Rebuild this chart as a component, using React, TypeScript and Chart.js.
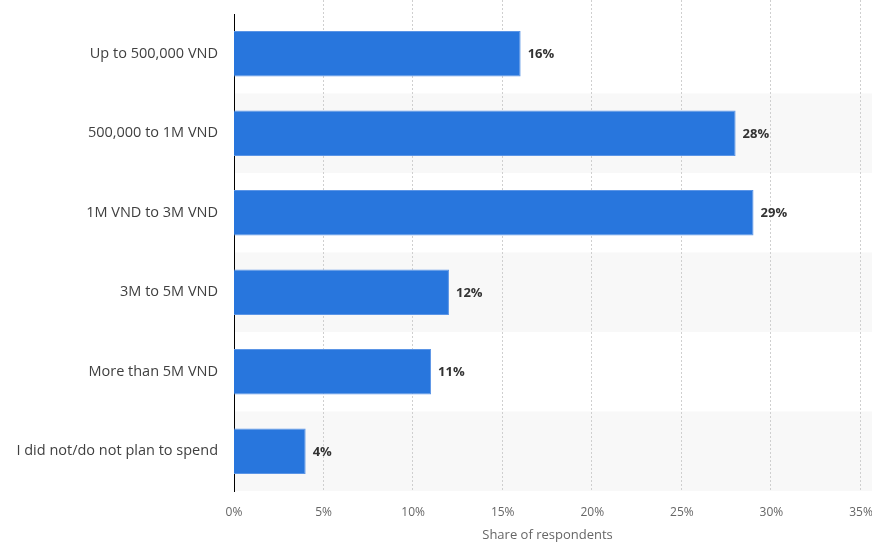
import React, { useEffect, useRef } from "react";
import { Chart, registerables } from "chart.js";

Chart.register(...registerables);

const categories = [
  "Up to 500,000 VND",
  "500,000 to 1M VND",
  "1M VND to 3M VND",
  "3M to 5M VND",
  "More than 5M VND",
  "I did not/do not plan to spend",
];
const shares = [16, 28, 29, 12, 11, 4];
const xTicks = [0, 5, 10, 15, 20, 25, 30, 35];

const FONT = "'Open Sans', 'Noto Sans', sans-serif";

const bandPlugin = {
  id: "bands",
  beforeDatasetsDraw(chart: any) {
    const { ctx, chartArea, scales } = chart;
    const y = scales.y;
    const n = categories.length;
    const h = (chartArea.bottom - chartArea.top) / n;
    ctx.save();
    ctx.fillStyle = "#f8f8f8";
    for (let i = 1; i < n; i += 2) {
      const c = y.getPixelForValue(i);
      ctx.fillRect(chartArea.left + 1, c - h / 2, chart.width - chartArea.left, h);
    }
    ctx.strokeStyle = "#cfcfcf";
    ctx.lineWidth = 1;
    ctx.setLineDash([2, 2]);
    const x = scales.x;
    for (const t of xTicks) {
      if (t === 0) continue;
      const px = Math.round(x.getPixelForValue(t)) - 0.5;
      ctx.beginPath();
      ctx.moveTo(px, 0);
      ctx.lineTo(px, chartArea.bottom);
      ctx.stroke();
    }
    ctx.restore();
  },
};

const labelPlugin = {
  id: "valueLabels",
  afterDatasetsDraw(chart: any) {
    const { ctx } = chart;
    const meta = chart.getDatasetMeta(0);
    ctx.save();
    ctx.font = `bold 13px ${FONT}`;
    ctx.fillStyle = "#333333";
    ctx.textAlign = "left";
    ctx.textBaseline = "middle";
    meta.data.forEach((el: any, i: number) => {
      ctx.fillText(shares[i] + "%", el.x + 7, el.y + 1);
    });
    ctx.restore();
  },
};

export default function App() {
  const ref = useRef<HTMLCanvasElement | null>(null);
  useEffect(() => {
    if (!ref.current) return;
    const chart = new Chart(ref.current, {
      type: "bar",
      data: {
        labels: categories,
        datasets: [
          {
            data: shares,
            backgroundColor: "#2876dd",
            borderColor: "#5b95e6",
            borderWidth: 1,
            categoryPercentage: 0.57,
            barPercentage: 1,
          },
        ],
      },
      options: {
        indexAxis: "y",
        animation: false,
        responsive: false,
        maintainAspectRatio: false,
        layout: { padding: { top: 14, right: 11, left: 0, bottom: 0 } },
        plugins: { legend: { display: false }, tooltip: { enabled: false } },
        scales: {
          x: {
            min: 0,
            max: 35,
            afterBuildTicks(scale: any) {
              scale.ticks = xTicks.map((v) => ({ value: v }));
            },
            afterFit(scale: any) {
              scale.height = 54;
              scale.paddingLeft = 0;
              scale.paddingRight = 0;
            },
            grid: { display: false, drawTicks: false },
            border: { display: false },
            ticks: {
              padding: 14,
              color: "#666666",
              font: { family: FONT, size: 12 },
              callback: (v: any) => v + "%",
            },
            title: {
              display: true,
              text: "Share of respondents",
              color: "#666666",
              font: { family: FONT, size: 13 },
              padding: { top: 0, bottom: 2 },
            },
          },
          y: {
            afterFit(scale: any) {
              scale.width = 234;
              scale.paddingTop = 0;
              scale.paddingBottom = 0;
            },
            grid: { display: false, drawTicks: false },
            border: { display: true, color: "#000000", width: 1 },
            ticks: {
              padding: 16,
              color: "#3f3f3f",
              font: { family: FONT, size: 14.5 },
            },
          },
        },
      },
      plugins: [bandPlugin, labelPlugin],
    });
    return () => chart.destroy();
  }, []);
  return (
    <div style={{ position: "absolute", left: 0, top: 0, width: 872, height: 545, background: "#fff" }}>
      <canvas ref={ref} width={872} height={545} style={{ width: 872, height: 545 }} />
    </div>
  );
}
